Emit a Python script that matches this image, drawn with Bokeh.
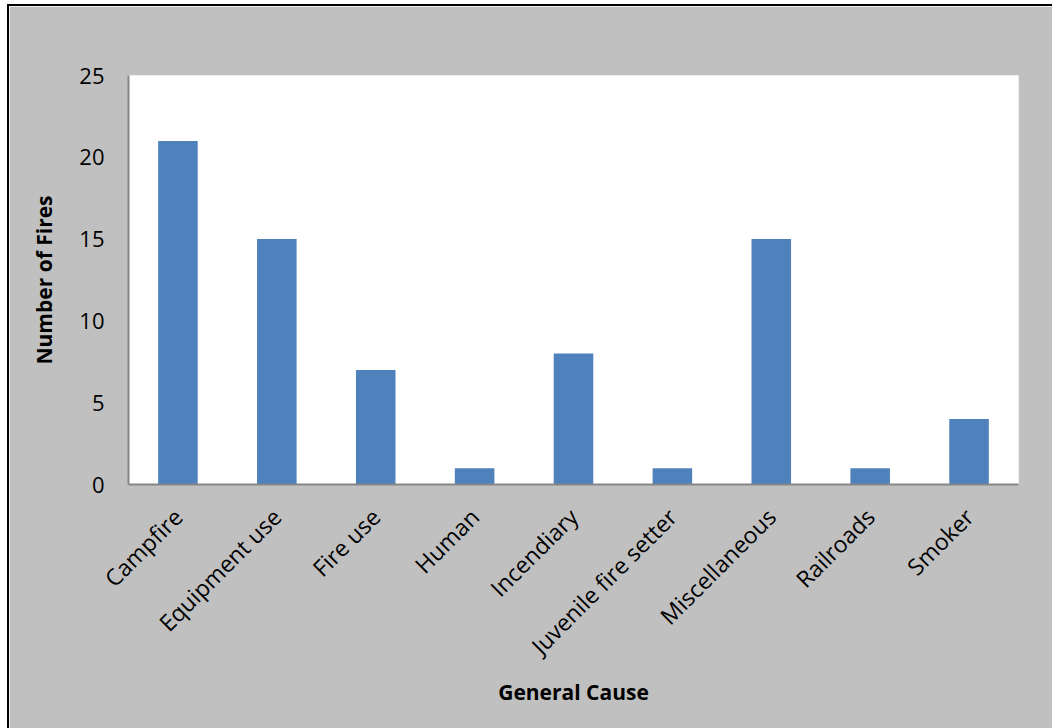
from bokeh.plotting import figure
from bokeh.models import FixedTicker
from bokeh.embed import file_html
from bokeh.resources import INLINE
import math

categories = ["Campfire", "Equipment use", "Fire use", "Human", "Incendiary",
              "Juvenile fire setter", "Miscellaneous", "Railroads", "Smoker"]
counts = [21, 15, 7, 1, 8, 1, 15, 1, 4]
y_ticks = [0, 5, 10, 15, 20, 25]

FONT = "Open Sans"

p = figure(x_range=categories, y_range=(0, 25), width=1043, height=722,
           output_backend="svg", toolbar_location=None,
           min_border_left=119, min_border_right=36,
           min_border_top=69, min_border_bottom=246)
p.styles = {"margin-left": "7px", "margin-top": "4px",
            "border-left": "2px solid black", "border-top": "2px solid black",
            "box-sizing": "content-box"}

p.vbar(x=categories, top=counts, width=0.4, fill_color="#4f81bd",
       line_color=None)

p.background_fill_color = "white"
p.border_fill_color = "#c0c0c0"
p.outline_line_color = None
p.xgrid.grid_line_color = None
p.ygrid.grid_line_color = None
p.x_range.range_padding = 0

p.yaxis.ticker = FixedTicker(ticks=y_ticks)
for ax in (p.xaxis[0], p.yaxis[0]):
    ax.axis_line_color = "#868686"
    ax.axis_line_width = 2
    ax.major_tick_line_color = None
    ax.minor_tick_line_color = None
    ax.major_tick_out = 0
    ax.major_tick_in = 0
    ax.major_label_text_font = FONT
    ax.major_label_text_color = "black"
    ax.axis_label_text_font = FONT
    ax.axis_label_text_font_size = "21px"
    ax.axis_label_text_font_style = "bold"
    ax.axis_label_text_color = "black"

p.yaxis.major_label_text_font_size = "22px"
p.xaxis.major_label_text_font_size = "23px"
p.yaxis.axis_label = "Number of Fires"
p.yaxis.major_label_standoff = 24
p.yaxis.axis_label_standoff = 18
p.xaxis.axis_label = "General Cause"
p.xaxis.major_label_orientation = math.pi / 4
p.xaxis.major_label_standoff = 28
p.xaxis.axis_label_standoff = 3

open("out.html", "w").write(file_html(p, INLINE))
